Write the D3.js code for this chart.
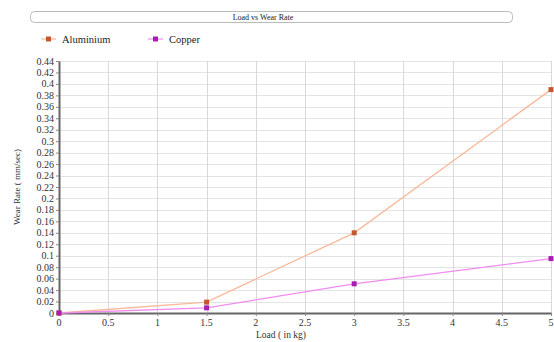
<!DOCTYPE html>
<html>
<head>
<meta charset="utf-8">
<script src="https://cdn.jsdelivr.net/npm/d3@7"></script>
<style>
  html, body { margin: 0; padding: 0; background: #fff; }
  svg { display: block; }
</style>
</head>
<body>
<svg id="chart" width="554" height="342"></svg>
<script>
// Wear test results: load applied vs wear rate for two metals
const loads = [0, 1.5, 3, 5];
const aluminium = [0, 0.019, 0.14, 0.39];
const copper = [0, 0.009, 0.051, 0.095];
const seriesNames = ["Aluminium", "Copper"];
const xTicks = [0, 0.5, 1, 1.5, 2, 2.5, 3, 3.5, 4, 4.5, 5];
const yTicks = d3.range(0, 23).map(i => +(i * 0.02).toFixed(2));

const lineColors = ["#f9b99a", "#f08cf0"];
const markColors = ["#c4582c", "#a81fb0"];
const FONT = "Liberation Serif";

const svg = d3.select("#chart").attr("font-family", FONT);
const m = { left: 59, right: 3, top: 61, bottom: 29 };
const W = 554, H = 342;

const x = d3.scaleLinear().domain([0, 5]).range([m.left, W - m.right]);
const y = d3.scaleLinear().domain([0, 0.44]).range([H - m.bottom, m.top]);

// title box
svg.append("rect")
  .attr("x", 30.5).attr("y", 11.5).attr("width", 482).attr("height", 11)
  .attr("rx", 4).attr("fill", "#fff").attr("stroke", "#bbb");
svg.append("text")
  .attr("x", 263).attr("y", 20).attr("text-anchor", "middle")
  .attr("font-size", 8).attr("fill", "#222")
  .text("Load vs Wear Rate");

// legend (labels sit at the root so they keep the serif face)
const legendX = [41, 148];
seriesNames.forEach((name, i) => {
  const lx = legendX[i];
  svg.append("line").attr("x1", lx).attr("x2", lx + 15).attr("y1", 39).attr("y2", 39)
    .attr("stroke", lineColors[i]).attr("stroke-width", 1.2);
  svg.append("rect").attr("x", lx + 5).attr("y", 36.5).attr("width", 5).attr("height", 5)
    .attr("fill", markColors[i]);
  svg.append("text").attr("x", lx + 21).attr("y", 42.5)
    .attr("font-size", 10.5).attr("fill", "#222").text(name);
});

// grid
svg.append("g").selectAll("line").data(yTicks).join("line")
  .attr("x1", m.left).attr("x2", W - m.right)
  .attr("y1", d => Math.round(y(d)) + 0.5).attr("y2", d => Math.round(y(d)) + 0.5)
  .attr("stroke", "#e4e4e4");
svg.append("g").selectAll("line").data(xTicks).join("line")
  .attr("y1", m.top).attr("y2", H - m.bottom)
  .attr("x1", d => Math.round(x(d)) + 0.5).attr("x2", d => Math.round(x(d)) + 0.5)
  .attr("stroke", "#dadada");

// axes
const yAxis = svg.append("g").attr("transform", `translate(${m.left},0)`)
  .call(d3.axisLeft(y).tickValues(yTicks).tickSize(3).tickSizeOuter(0).tickFormat(d => String(d)));
const xAxis = svg.append("g").attr("transform", `translate(0,${H - m.bottom})`)
  .call(d3.axisBottom(x).tickValues(xTicks).tickSize(3).tickSizeOuter(0).tickFormat(d => String(d)));
[yAxis, xAxis].forEach(a => {
  a.select(".domain").attr("stroke", "#666").attr("stroke-width", 2);
  a.selectAll(".tick line").attr("stroke", "#888");
});

// lift the tick labels to the root, placed in absolute coordinates
const labels = svg.append("g").attr("id", "tick-labels");
yAxis.selectAll(".tick text").each(function (d) {
  svg.node().appendChild(this);
  d3.select(this).attr("x", m.left - 5).attr("y", y(d)).attr("dy", "0.35em")
    .attr("text-anchor", "end").attr("font-family", FONT).attr("font-size", 10)
    .attr("fill", "#333");
});
xAxis.selectAll(".tick text").each(function (d) {
  svg.node().appendChild(this);
  d3.select(this).attr("x", x(d)).attr("y", H - m.bottom + 6).attr("dy", "0.71em")
    .attr("text-anchor", "middle").attr("font-family", FONT).attr("font-size", 10)
    .attr("fill", "#333");
});
labels.remove();

// axis titles
svg.append("text")
  .attr("transform", `translate(20,${(m.top + H - m.bottom) / 2}) rotate(-90)`)
  .attr("text-anchor", "middle").attr("font-size", 9)
  .attr("fill", "#333").text("Wear Rate ( mm/sec)");
svg.append("text")
  .attr("x", 281).attr("y", 338).attr("text-anchor", "middle")
  .attr("font-size", 9.5).attr("fill", "#333")
  .text("Load ( in kg)");

// series
const series = [aluminium, copper];
const line = d3.line().x(d => x(d[0])).y(d => y(d[1]));
series.forEach((vals, i) => {
  const pts = loads.map((l, j) => [l, vals[j]]);
  svg.append("path").datum(pts).attr("d", line)
    .attr("fill", "none").attr("stroke", lineColors[i]).attr("stroke-width", 1.3);
  svg.append("g").selectAll("rect").data(pts).join("rect")
    .attr("x", d => x(d[0]) - 2.5).attr("y", d => y(d[1]) - 2.5)
    .attr("width", 5).attr("height", 5).attr("fill", markColors[i]);
});

svg.selectAll("text").attr("font-family", FONT);
</script>
</body>
</html>
